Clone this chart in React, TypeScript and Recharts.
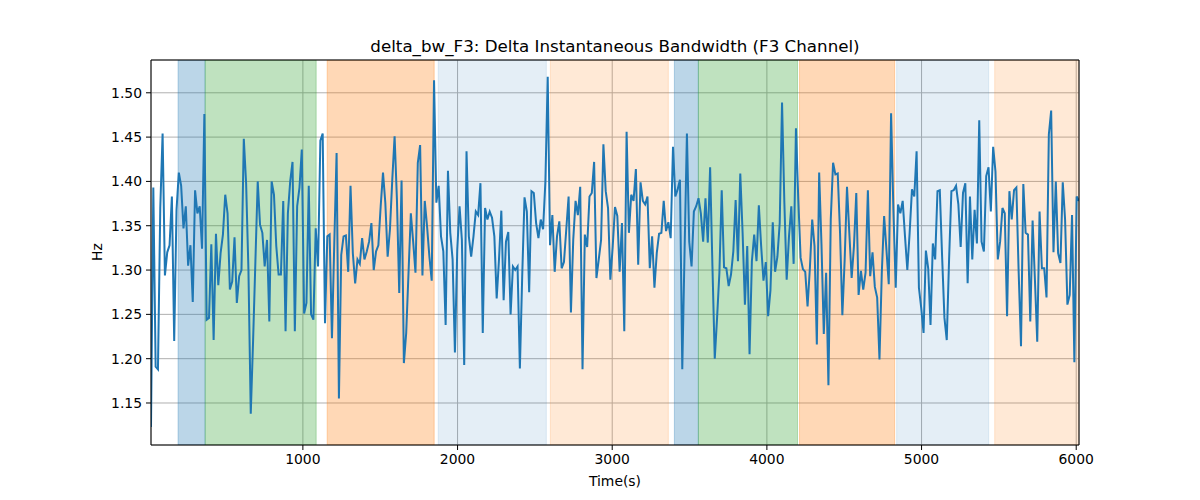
import {
  LineChart,
  Line,
  XAxis,
  YAxis,
  CartesianGrid,
  ReferenceArea,
  ReferenceLine
} from 'recharts'

// sampling of the time axis (seconds)
const T0 = 18
const STEP = 15

// delta instantaneous bandwidth, F3 channel (Hz)
const deltaBw = [
  1.123, 1.393, 1.191, 1.188, 1.37, 1.454, 1.294, 1.32, 1.328, 1.383, 1.22, 1.368, 1.41, 1.395, 1.347, 1.372,
  1.305, 1.328, 1.264, 1.39, 1.364, 1.372, 1.324, 1.476, 1.244, 1.246, 1.329, 1.221, 1.341, 1.283, 1.319, 1.34,
  1.385, 1.364, 1.278, 1.287, 1.337, 1.263, 1.293, 1.3, 1.448, 1.398, 1.3, 1.138, 1.22, 1.31, 1.4, 1.351,
  1.342, 1.304, 1.334, 1.242, 1.4, 1.385, 1.327, 1.295, 1.295, 1.378, 1.231, 1.364, 1.4, 1.422, 1.231, 1.372,
  1.393, 1.436, 1.251, 1.263, 1.395, 1.25, 1.244, 1.347, 1.304, 1.446, 1.454, 1.24, 1.338, 1.34, 1.223, 1.33,
  1.432, 1.155, 1.317, 1.338, 1.339, 1.298, 1.395, 1.319, 1.285, 1.312, 1.307, 1.336, 1.312, 1.321, 1.332, 1.353,
  1.3, 1.321, 1.328,
  1.372, 1.41, 1.376, 1.315, 1.346, 1.402, 1.451, 1.38, 1.274, 1.401, 1.195, 1.229, 1.297, 1.364, 1.332, 1.297,
  1.421, 1.441, 1.294, 1.378, 1.349, 1.315, 1.288, 1.514, 1.376, 1.395, 1.338, 1.321, 1.238, 1.412, 1.342, 1.312,
  1.207, 1.323, 1.372, 1.334, 1.193, 1.434, 1.338, 1.315, 1.338, 1.366, 1.362, 1.398, 1.229, 1.37, 1.357, 1.366,
  1.359, 1.338,
  1.268, 1.312, 1.367, 1.266, 1.332, 1.343, 1.25, 1.304, 1.3, 1.304, 1.189, 1.293, 1.382, 1.366, 1.275, 1.389,
  1.387, 1.353, 1.336, 1.357, 1.346, 1.4, 1.518, 1.328, 1.362, 1.298, 1.338, 1.355, 1.302, 1.309, 1.346, 1.383,
  1.252, 1.334, 1.378, 1.362, 1.394, 1.188, 1.34, 1.326, 1.383, 1.387, 1.422, 1.291, 1.312, 1.334, 1.442, 1.389,
  1.37, 1.289,
  1.326, 1.371, 1.361, 1.298, 1.353, 1.231, 1.456, 1.342, 1.385, 1.378, 1.414, 1.306, 1.399, 1.378, 1.374, 1.383,
  1.302, 1.338, 1.28, 1.319, 1.341, 1.342, 1.378, 1.344, 1.354, 1.336, 1.439, 1.383, 1.391, 1.402, 1.188, 1.323,
  1.454, 1.332, 1.304, 1.366, 1.372, 1.381, 1.364, 1.332, 1.381, 1.331, 1.416, 1.304, 1.2, 1.246, 1.297, 1.39,
  1.303, 1.302,
  1.282, 1.295, 1.321, 1.379, 1.31, 1.409, 1.342, 1.261, 1.327, 1.205, 1.31, 1.34, 1.31, 1.373, 1.327, 1.288,
  1.309, 1.248, 1.277, 1.354, 1.298, 1.315, 1.353, 1.489, 1.376, 1.289, 1.338, 1.372, 1.307, 1.46, 1.38, 1.314,
  1.301, 1.298, 1.259, 1.302, 1.357, 1.327, 1.216, 1.41, 1.329, 1.228, 1.297, 1.17, 1.357, 1.421, 1.408, 1.409,
  1.342, 1.249,
  1.312, 1.394, 1.342, 1.291, 1.327, 1.387, 1.272, 1.299, 1.278, 1.297, 1.39, 1.293, 1.32, 1.281, 1.269, 1.199,
  1.297, 1.361, 1.323, 1.284, 1.477, 1.368, 1.28, 1.374, 1.364, 1.378, 1.338, 1.3, 1.342, 1.391, 1.383, 1.434,
  1.28, 1.257, 1.229, 1.322, 1.302, 1.238, 1.33, 1.312, 1.389, 1.39, 1.315, 1.246, 1.221, 1.312, 1.389, 1.39,
  1.395, 1.374,
  1.326, 1.387, 1.398, 1.285, 1.383, 1.312, 1.368, 1.33, 1.469, 1.332, 1.321, 1.406, 1.416, 1.366, 1.439, 1.411,
  1.312, 1.332, 1.37, 1.364, 1.248, 1.389, 1.357, 1.39, 1.393, 1.297, 1.214, 1.397, 1.342, 1.34, 1.242, 1.356,
  1.289, 1.219, 1.366, 1.302, 1.302, 1.269, 1.453, 1.48, 1.32, 1.4, 1.319, 1.308, 1.399, 1.357, 1.261, 1.272,
  1.362, 1.196, 1.383, 1.378
]

// shaded segments behind the signal
const spanStart = [193, 368, 1157, 1875, 2600, 3402, 3557, 4211, 4839, 5473]
const spanEnd = [368, 1086, 1849, 2574, 3363, 3557, 4198, 4826, 5434, 6030]
const spanColor = ['#1f77b4', '#2ca02c', '#ff7f0e', '#1f77b4', '#ff7f0e', '#1f77b4', '#2ca02c', '#ff7f0e', '#1f77b4', '#ff7f0e']
const spanAlpha = [0.3, 0.3, 0.3, 0.12, 0.17, 0.3, 0.3, 0.3, 0.12, 0.17]

const xTicks = [1000, 2000, 3000, 4000, 5000, 6000]
const yTicks = [1.15, 1.2, 1.25, 1.3, 1.35, 1.4, 1.45, 1.5]

const Y_MIN = 1.1026
const Y_MAX = 1.537

const data = deltaBw.map((hz, i) => ({ t: T0 + i * STEP, hz }))
const tMin = data[0].t
const tMax = data[data.length - 1].t

const font = '"DejaVu Sans", sans-serif'
const tickStyle = { fontSize: 13.9, fill: '#000', fontFamily: font }

export default function App() {
  return (
    <div style={{ position: 'absolute', left: 0, top: 0, width: 1200, height: 500, background: '#fff', fontFamily: font }}>
      <div style={{ position: 'absolute', left: 151, width: 928, top: 35, textAlign: 'center', fontSize: 16.7, lineHeight: '22px', color: '#000' }}>
        delta_bw_F3: Delta Instantaneous Bandwidth (F3 Channel)
      </div>
      <div style={{ position: 'absolute', left: 151, width: 928, top: 471, textAlign: 'center', fontSize: 13.9, lineHeight: '20px', color: '#000' }}>
        Time(s)
      </div>
      <div style={{ position: 'absolute', left: 77, top: 242, width: 40, textAlign: 'center', fontSize: 13.9, lineHeight: '20px', color: '#000', transform: 'rotate(-90deg)' }}>
        Hz
      </div>

      <LineChart width={1200} height={500} data={data} margin={{ top: 60, right: 121, bottom: 0, left: 0 }}>
        {spanStart.map((s, i) => (
          <ReferenceArea
            key={i}
            x1={s}
            x2={spanEnd[i]}
            y1={Y_MIN}
            y2={Y_MAX}
            fill={spanColor[i]}
            fillOpacity={spanAlpha[i]}
            stroke={spanColor[i]}
            strokeOpacity={spanAlpha[i]}
            ifOverflow="hidden"
          />
        ))}
        <CartesianGrid stroke="#b0b0b0" strokeWidth={1} />
        <XAxis
          dataKey="t"
          type="number"
          domain={[tMin, tMax]}
          allowDataOverflow
          ticks={xTicks}
          tick={tickStyle}
          tickSize={5}
          tickMargin={4}
          height={55}
          axisLine={{ stroke: '#000' }}
          tickLine={{ stroke: '#000' }}
        />
        <YAxis
          type="number"
          domain={[Y_MIN, Y_MAX]}
          allowDataOverflow
          ticks={yTicks}
          tickFormatter={(v: number) => v.toFixed(2)}
          tick={tickStyle}
          tickSize={5}
          tickMargin={4}
          width={151}
          axisLine={{ stroke: '#000' }}
          tickLine={{ stroke: '#000' }}
        />
        <Line
          type="linear"
          dataKey="hz"
          stroke="#1f77b4"
          strokeWidth={2}
          dot={false}
          isAnimationActive={false}
        />
        <ReferenceLine y={Y_MAX} stroke="#000" ifOverflow="visible" />
        <ReferenceLine x={tMax} stroke="#000" ifOverflow="visible" />
      </LineChart>
    </div>
  )
}
